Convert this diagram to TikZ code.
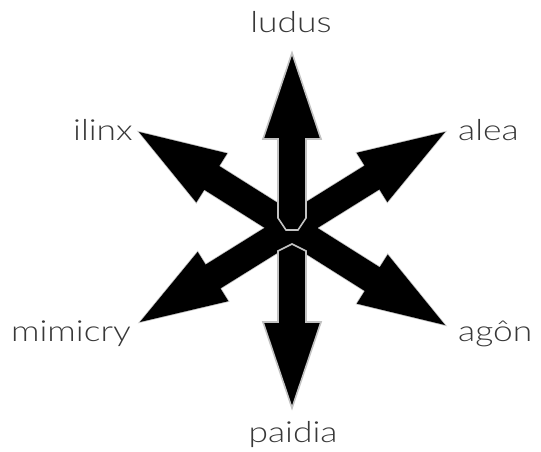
\documentclass[tikz,border=0pt]{standalone}
\usepackage{fontspec}
\IfFontExistsTF{Lato Light}{\setmainfont{Lato Light}}{\setmainfont{Liberation Sans}}
\usetikzlibrary{calc}

\tikzset{
  halo/.style={draw=black!24,line width=1.6pt,line join=miter},
  game/.style={font=\fontsize{29}{33}\selectfont,text=black!78,inner sep=0pt,xscale=1.22},
}
% two-headed arm between two tips
\newcommand\crossarm[3]{%
  \coordinate (#1-b) at ($(#1)!86pt!(#2)$);
  \coordinate (#2-b) at ($(#2)!86pt!(#1)$);
  \path[#3] (#1) -- ($(#1-b)!29pt!90:(#1)$) -- ($(#1-b)!14pt!90:(#1)$)
    -- ($(#2-b)!14pt!-90:(#2)$) -- ($(#2-b)!29pt!-90:(#2)$) -- (#2)
    -- ($(#2-b)!29pt!90:(#2)$) -- ($(#2-b)!14pt!90:(#2)$)
    -- ($(#1-b)!14pt!-90:(#1)$) -- ($(#1-b)!29pt!-90:(#1)$) -- cycle;}

\begin{document}
\begin{tikzpicture}[x=1pt,y=-1pt]
  \useasboundingbox (0,0) rectangle (541,452);
  \coordinate (ilinx-tip) at (139,132);
  \coordinate (alea-tip) at (445,132);
  \coordinate (mimicry-tip) at (140,322);
  \coordinate (agon-tip) at (445,325);
  % the X
  \crossarm{ilinx-tip}{agon-tip}{halo}
  \crossarm{mimicry-tip}{alea-tip}{halo}
  \crossarm{ilinx-tip}{agon-tip}{fill=black}
  \crossarm{mimicry-tip}{alea-tip}{fill=black}
  % up and down
  \draw[halo,fill=black] (292,53) -- (321,139) -- (306,139) -- (306,218) -- (298,230)
    -- (286,230) -- (278,218) -- (278,139) -- (263,139) -- cycle;
  \draw[halo,fill=black] (292,408) -- (321,322) -- (306,322) -- (306,251) -- (292,244)
    -- (278,251) -- (278,322) -- (263,322) -- cycle;
  \node[game,anchor=base] (ludus) at (291,33) {ludus};
  \node[game,anchor=base east] (ilinx) at (133,140) {ilinx};
  \node[game,anchor=base west] (alea) at (458,140) {alea};
  \node[game,anchor=base east] (mimicry) at (131,341) {mimicry};
  \node[game,anchor=base west] (agon) at (458,341) {agôn};
  \node[game,anchor=base] (paidia) at (293,442) {paidia};
\end{tikzpicture}
\end{document}
